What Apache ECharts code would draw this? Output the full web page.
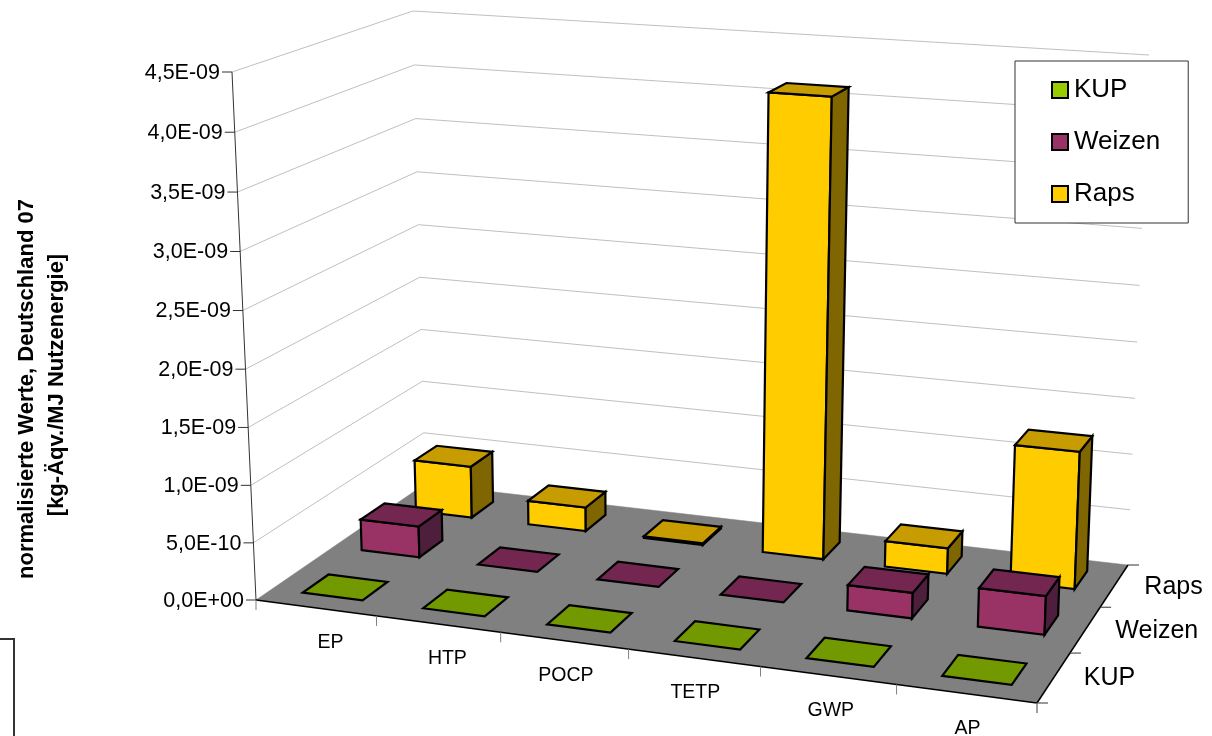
<!DOCTYPE html>
<html>
<head>
<meta charset="utf-8">
<style>html,body{margin:0;padding:0;background:#fff}#chart{width:1212px;height:736px}</style>
<script src="https://cdn.jsdelivr.net/npm/echarts@6/dist/echarts.min.js"></script>
</head>
<body>
<div id="chart"></div>
<script>
// Normalised impact categories per energy crop
const categories = ['EP', 'HTP', 'POCP', 'TETP', 'GWP', 'AP'];
const depthLabels = ['KUP', 'Weizen', 'Raps'];
const kupValues = [0, 0, 0, 0, 0, 0];
const weizenValues = [2.8e-10, 0, 0, 0, 2.2e-10, 3.3e-10];
const rapsValues = [4.8e-10, 2.2e-10, 1.5e-11, 4.11e-9, 2.3e-10, 1.21e-9];
const valueTicks = [0, 5e-10, 1e-9, 1.5e-9, 2e-9, 2.5e-9, 3e-9, 3.5e-9, 4e-9, 4.5e-9];
const valueTickLabels = ['0,0E+00', '5,0E-10', '1,0E-09', '1,5E-09', '2,0E-09', '2,5E-09', '3,0E-09', '3,5E-09', '4,0E-09', '4,5E-09'];

const FONT = '"Liberation Sans", Arial, sans-serif';

// Oblique view: corners of the floor and ceiling of the plot box
const floorQuad = [[256, 600], [1037, 703], [1128, 565], [425, 484]];
const ceilQuad = [[232, 72], [1056, 127], [1149, 55], [413, 11]];
const verticalBias = 0.03;

// Homography taking the unit square onto a quadrilateral
function squareToQuad(q) {
  const [[x0, y0], [x1, y1], [x2, y2], [x3, y3]] = q;
  const dx1 = x1 - x2, dx2 = x3 - x2, sx = x0 - x1 + x2 - x3;
  const dy1 = y1 - y2, dy2 = y3 - y2, sy = y0 - y1 + y2 - y3;
  const den = dx1 * dy2 - dx2 * dy1;
  const g = (sx * dy2 - dx2 * sy) / den;
  const h = (dx1 * sy - sx * dy1) / den;
  const a = x1 - x0 + g * x1, b = x3 - x0 + h * x3;
  const d = y1 - y0 + g * y1, e = y3 - y0 + h * y3;
  return (u, v) => {
    const w = g * u + h * v + 1;
    return [(a * u + b * v + x0) / w, (d * u + e * v + y0) / w];
  };
}
const floorMap = squareToQuad(floorQuad);
const ceilMap = squareToQuad(ceilQuad);

// u along the categories, v into the depth, t up the value axis (all 0..1)
function project(u, v, t) {
  const p = floorMap(u, v), q = ceilMap(u, v);
  const s = t / (1 + verticalBias * (1 - t));
  return [p[0] + (q[0] - p[0]) * s, p[1] + (q[1] - p[1]) * s];
}

// The hidden cartesian grid provides the scales; its box is normalised to 0..1
const GRID = {left: 0, top: 0, width: 600, height: 600};
function toUnit(api, cat, val) {
  const c = api.coord([cat, val]);
  return [(c[0] - GRID.left) / GRID.width, (GRID.top + GRID.height - c[1]) / GRID.height];
}

const poly = (points, fill) => ({
  type: 'polygon',
  shape: {points},
  style: {fill, stroke: '#000', lineWidth: 2.2, lineJoin: 'miter'}
});
const seg = (a, b, color, lw) => ({
  type: 'line',
  shape: {x1: a[0], y1: a[1], x2: b[0], y2: b[1]},
  style: {stroke: color, lineWidth: lw || 1, fill: null}
});
const label = (text, x, y, size, align) => ({
  type: 'text',
  style: {text, x, y, fill: '#000', font: size + 'px ' + FONT, textAlign: align || 'center', textVerticalAlign: 'middle'}
});

// Three bar rows, each sitting in its own slice of the floor depth
const BAR_WIDTH = 0.5, BAR_DEPTH = 0.43;
function barRenderer(row, front, side, top) {
  return function (params, api) {
    const cat = api.value(0), val = api.value(1);
    const [uc, t] = toUnit(api, cat, val);
    const du = (api.size([1, 0])[0] / GRID.width) * BAR_WIDTH / 2;
    const shift = 0.001 - row * 0.002;
    const u0 = uc - du + shift, u1 = uc + du + shift;
    const mid = row + 0.48 + row * 0.03;
    const v0 = (mid - BAR_DEPTH / 2) / depthLabels.length;
    const v1 = (mid + BAR_DEPTH / 2) / depthLabels.length;
    const fl0 = project(u0, v0, 0), fr0 = project(u1, v0, 0), br0 = project(u1, v1, 0);
    const fl1 = project(u0, v0, t), fr1 = project(u1, v0, t), br1 = project(u1, v1, t), bl1 = project(u0, v1, t);
    const kids = [];
    if (t > 0) {
      kids.push(poly([fl0, fr0, fr1, fl1], front));
      kids.push(poly([fr0, br0, br1, fr1], side));
    }
    kids.push(poly([fl1, fr1, br1, bl1], top));
    return {type: 'group', children: kids};
  };
}

function barSeries(name, values, row, front, side, top) {
  return {
    type: 'custom',
    name,
    silent: true,
    clip: false,
    z: 5 + (depthLabels.length - row),
    itemStyle: {color: front},
    data: values.map((v, i) => [i, v]),
    encode: {x: 0, y: 1},
    renderItem: barRenderer(row, front, side, top)
  };
}

// Walls with value gridlines, value ticks and tick labels
const wallSeries = {
  type: 'custom',
  silent: true,
  clip: false,
  z: 1,
  data: valueTicks.map((v, i) => [0, v, i]),
  encode: {x: 0, y: 1},
  renderItem(params, api) {
    const t = toUnit(api, 0, api.value(1))[1];
    const a = project(0, 0, t), b = project(0, 1, t), c = project(1, 1, t);
    const tickEnd = [a[0] - 10, a[1]];
    return {type: 'group', children: [
      seg(a, b, '#c0c0c0'), seg(b, c, '#c0c0c0'),
      seg(a, tickEnd, '#333'),
      label(valueTickLabels[api.value(2)], tickEnd[0] - 2, a[1] + 1, 21.5, 'right')
    ]};
  }
};

// Floor plate plus its axis edges
const floorSeries = {
  type: 'custom',
  silent: true,
  clip: false,
  z: 2,
  data: [[0, 0]],
  encode: {x: 0, y: 1},
  renderItem() {
    const fl = project(0, 0, 0), fr = project(1, 0, 0), br = project(1, 1, 0), bl = project(0, 1, 0);
    return {type: 'group', children: [
      {type: 'polygon', shape: {points: [fl, fr, br, bl]}, style: {fill: '#808080'}},
      seg(fl, project(0, 0, 1), '#333'),
      seg(fl, fr, '#000', 1.5),
      seg(fr, br, '#000', 1.5)
    ]};
  }
};

// Category ticks and labels along the front edge
const categoryLabelNudge = [2, -1, -6, -4, 0, 1];
const categorySeries = {
  type: 'custom',
  silent: true,
  clip: false,
  z: 3,
  data: categories.map((c, i) => [i, 0]),
  encode: {x: 0, y: 1},
  renderItem(params, api) {
    const i = api.value(0);
    const [uc] = toUnit(api, i, 0);
    const du = api.size([1, 0])[0] / GRID.width / 2;
    const p = project(uc + du, 0, 0), c = project(uc, 0, 0);
    const kids = [seg(p, [p[0], p[1] + 10], '#808080'),
      label(categories[i], c[0] + 14 - 15 * uc + categoryLabelNudge[i], c[1] + 35, 19.5)];
    if (i === 0) {
      const o = project(0, 0, 0);
      kids.push(seg(o, [o[0], o[1] + 10], '#808080'));
    }
    return {type: 'group', children: kids};
  }
};

// Depth ticks and row labels along the right floor edge
const depthSeries = {
  type: 'custom',
  silent: true,
  clip: false,
  z: 3,
  data: depthLabels.map((d, i) => [0, 0, i]),
  encode: {x: 0, y: 1},
  renderItem(params, api) {
    const i = api.value(2), n = depthLabels.length;
    const kids = [];
    const p = project(1, (i + 1) / n, 0);
    kids.push(seg(p, [p[0] + 11, p[1]], '#333'));
    if (i === 0) {
      const o = project(1, 0, 0);
      kids.push(seg(o, [o[0] + 11, o[1]], '#333'), seg(o, [o[0], o[1] + 10], '#808080'));
    }
    const m = project(1, (i + 0.5) / n, 0);
    kids.push(label(depthLabels[i], m[0] + 30, m[1] + 1, 25, 'left'));
    return {type: 'group', children: kids};
  }
};

const chart = echarts.init(document.getElementById('chart'));
chart.setOption({
  animation: false,
  backgroundColor: '#fff',
  grid: GRID,
  xAxis: {type: 'category', data: categories, show: false},
  yAxis: {type: 'value', min: 0, max: 4.5e-9, interval: 5e-10, show: false},
  legend: {
    data: ['KUP', 'Weizen', 'Raps'],
    orient: 'vertical',
    left: 1015,
    top: 61,
    icon: 'rect',
    itemWidth: 16,
    itemHeight: 16,
    itemGap: 26,
    selectedMode: false,
    backgroundColor: '#fff',
    borderColor: '#333',
    borderWidth: 1,
    padding: [16, 28, 16, 36],
    itemStyle: {borderColor: '#000', borderWidth: 2},
    textStyle: {fontFamily: FONT, fontSize: 26, color: '#000', padding: [0, 0, 4, 1]},
    z: 20
  },
  graphic: [
    {
      type: 'text', x: 27, y: 389, silent: true, rotation: Math.PI / 2,
      style: {text: 'normalisierte Werte, Deutschland 07', font: 'bold 22px ' + FONT, fill: '#000', textAlign: 'center', textVerticalAlign: 'middle'}
    },
    {
      type: 'text', x: 57, y: 385, silent: true, rotation: Math.PI / 2,
      style: {text: '[kg-Äqv./MJ Nutzenergie]', font: 'bold 22px ' + FONT, fill: '#000', textAlign: 'center', textVerticalAlign: 'middle'}
    },
    {
      type: 'polyline', silent: true,
      shape: {points: [[0, 639], [14, 639], [14, 736]]},
      style: {stroke: '#333', lineWidth: 2, fill: null}
    }
  ],
  series: [
    wallSeries, floorSeries, categorySeries, depthSeries,
    barSeries('Raps', rapsValues, 2, '#ffcc00', '#806600', '#c69c00'),
    barSeries('Weizen', weizenValues, 1, '#993366', '#4d1f3d', '#732650'),
    barSeries('KUP', kupValues, 0, '#99cc00', '#4d6600', '#739900')
  ]
});
</script>
</body>
</html>
